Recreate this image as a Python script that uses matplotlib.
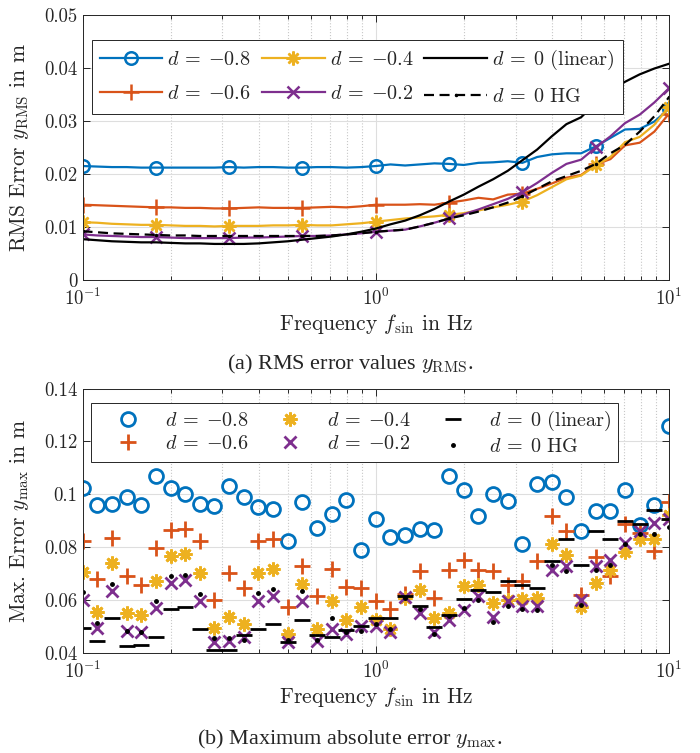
import numpy as np
import matplotlib
matplotlib.use("Agg")
import matplotlib.pyplot as plt
from matplotlib.ticker import FuncFormatter, LogLocator, LogFormatterMathtext

plt.rcParams['font.family'] = 'serif'
plt.rcParams['font.serif'] = ['cmr10', 'DejaVu Serif']
plt.rcParams['mathtext.fontset'] = 'cm'
plt.rcParams['axes.unicode_minus'] = False
plt.rcParams['axes.formatter.use_mathtext'] = True

# Frequenzraster (41 Punkte, logarithmisch)
f = np.logspace(-1, 1, 41)

# (a) RMS-Fehler
rms_08 = [0.0215, 0.0214, 0.0213, 0.0213, 0.0212, 0.0212, 0.0212, 0.0212, 0.0212, 0.0212,
          0.0213, 0.0212, 0.0213, 0.0213, 0.0212, 0.0212, 0.0213, 0.0213, 0.0212, 0.0213,
          0.0215, 0.0218, 0.0216, 0.0218, 0.0220, 0.0219, 0.0217, 0.0221, 0.0222, 0.0224,
          0.0221, 0.0232, 0.0237, 0.0239, 0.0239, 0.0252, 0.0268, 0.0284, 0.0285, 0.0299,
          0.0323]
rms_06 = [0.0142, 0.0141, 0.0140, 0.0139, 0.0138, 0.0137, 0.0137, 0.0136, 0.0136, 0.0135,
          0.0135, 0.0136, 0.0137, 0.0136, 0.0136, 0.0136, 0.0137, 0.0138, 0.0137, 0.0139,
          0.0142, 0.0142, 0.0142, 0.0143, 0.0142, 0.0146, 0.0150, 0.0155, 0.0152, 0.0161,
          0.0163, 0.0172, 0.0182, 0.0193, 0.0198, 0.0218, 0.0228, 0.0254, 0.0259, 0.0280,
          0.0314]
rms_04 = [0.0109, 0.0108, 0.0106, 0.0105, 0.0104, 0.0104, 0.0103, 0.0102, 0.0102, 0.0101,
          0.0102, 0.0102, 0.0102, 0.0103, 0.0103, 0.0104, 0.0103, 0.0103, 0.0105, 0.0107,
          0.0110, 0.0113, 0.0116, 0.0118, 0.0120, 0.0123, 0.0126, 0.0131, 0.0137, 0.0142,
          0.0148, 0.0160, 0.0175, 0.0190, 0.0197, 0.0216, 0.0232, 0.0260, 0.0270, 0.0293,
          0.0327]
rms_02 = [0.0086, 0.0084, 0.0083, 0.0082, 0.0081, 0.0081, 0.0080, 0.0079, 0.0079, 0.0079,
          0.0079, 0.0080, 0.0080, 0.0081, 0.0082, 0.0083, 0.0083, 0.0084, 0.0086, 0.0088,
          0.0091, 0.0093, 0.0095, 0.0101, 0.0108, 0.0116, 0.0124, 0.0133, 0.0143, 0.0153,
          0.0166, 0.0183, 0.0202, 0.0219, 0.0227, 0.0250, 0.0271, 0.0296, 0.0312, 0.0335,
          0.0362]
rms_lin = [0.0077, 0.0075, 0.0073, 0.0072, 0.0071, 0.0071, 0.0070, 0.0069, 0.0069, 0.0068,
           0.0068, 0.0068, 0.0069, 0.0071, 0.0073, 0.0076, 0.0079, 0.0082, 0.0086, 0.0091,
           0.0097, 0.0105, 0.0112, 0.0122, 0.0134, 0.0148, 0.0161, 0.0176, 0.0190, 0.0206,
           0.0226, 0.0246, 0.0271, 0.0294, 0.0307, 0.0334, 0.0357, 0.0374, 0.0388, 0.0399,
           0.0408]
rms_hg = [0.0092, 0.0090, 0.0088, 0.0087, 0.0086, 0.0085, 0.0084, 0.0084, 0.0083, 0.0083,
          0.0083, 0.0083, 0.0083, 0.0083, 0.0083, 0.0083, 0.0083, 0.0084, 0.0086, 0.0088,
          0.0091, 0.0093, 0.0095, 0.0101, 0.0108, 0.0116, 0.0122, 0.0129, 0.0137, 0.0146,
          0.0158, 0.0172, 0.0186, 0.0196, 0.0206, 0.0219, 0.0239, 0.0255, 0.0280, 0.0309,
          0.0345]

# (b) Maximaler Fehler
max_08 = [0.1025, 0.0961, 0.0962, 0.0989, 0.0961, 0.1070, 0.1024, 0.1001, 0.0963, 0.0956,
          0.1030, 0.0990, 0.0950, 0.0943, 0.0822, 0.0971, 0.0873, 0.0924, 0.0980, 0.0789,
          0.0905, 0.0838, 0.0844, 0.0870, 0.0863, 0.1070, 0.1015, 0.0918, 0.1001, 0.0973,
          0.0811, 0.1038, 0.1047, 0.0991, 0.0860, 0.0938, 0.0938, 0.1016, 0.0885, 0.0961,
          0.1258]
max_06 = [0.0823, 0.0680, 0.0834, 0.0692, 0.0658, 0.0797, 0.0863, 0.0870, 0.0822, 0.0601,
          0.0701, 0.0644, 0.0822, 0.0832, 0.0572, 0.0730, 0.0613, 0.0718, 0.0648, 0.0646,
          0.0597, 0.0566, 0.0623, 0.0709, 0.0606, 0.0714, 0.0752, 0.0714, 0.0709, 0.0657,
          0.0671, 0.0746, 0.0916, 0.0860, 0.0620, 0.0762, 0.0690, 0.0889, 0.0855, 0.0784,
          0.0971]
max_04 = [0.0705, 0.0556, 0.0739, 0.0549, 0.0543, 0.0673, 0.0765, 0.0775, 0.0701, 0.0494,
          0.0537, 0.0509, 0.0703, 0.0718, 0.0471, 0.0661, 0.0490, 0.0597, 0.0522, 0.0572,
          0.0522, 0.0490, 0.0606, 0.0638, 0.0530, 0.0549, 0.0654, 0.0657, 0.0587, 0.0600,
          0.0604, 0.0606, 0.0813, 0.0771, 0.0572, 0.0663, 0.0715, 0.0781, 0.0829, 0.0832,
          0.0920]
max_02 = [0.0601, 0.0494, 0.0635, 0.0484, 0.0480, 0.0568, 0.0665, 0.0676, 0.0595, 0.0439,
          0.0445, 0.0458, 0.0597, 0.0613, 0.0439, 0.0597, 0.0445, 0.0490, 0.0471, 0.0500,
          0.0500, 0.0480, 0.0610, 0.0549, 0.0477, 0.0525, 0.0560, 0.0613, 0.0534, 0.0594,
          0.0576, 0.0576, 0.0715, 0.0727, 0.0601, 0.0730, 0.0753, 0.0816, 0.0860, 0.0891,
          0.0905]
max_lin = [0.0494, 0.0443, 0.0532, 0.0427, 0.0429, 0.0458, 0.0566, 0.0572, 0.0490, 0.0410,
           0.0410, 0.0468, 0.0490, 0.0509, 0.0439, 0.0522, 0.0468, 0.0458, 0.0486, 0.0503,
           0.0530, 0.0532, 0.0613, 0.0576, 0.0499, 0.0544, 0.0604, 0.0639, 0.0629, 0.0673,
           0.0657, 0.0646, 0.0747, 0.0829, 0.0734, 0.0861, 0.0829, 0.0899, 0.0887, 0.0939,
           0.0907]
max_hg = [0.0629, 0.0513, 0.0661, 0.0484, 0.0480, 0.0597, 0.0690, 0.0695, 0.0623, 0.0455,
          0.0454, 0.0448, 0.0627, 0.0642, 0.0448, 0.0633, 0.0450, 0.0532, 0.0477, 0.0484,
          0.0509, 0.0490, 0.0608, 0.0566, 0.0471, 0.0540, 0.0568, 0.0600, 0.0515, 0.0576,
          0.0566, 0.0560, 0.0734, 0.0709, 0.0581, 0.0715, 0.0734, 0.0810, 0.0848, 0.0848,
          0.0878]

labels = [r'$d\:=\:{-0.8}$', r'$d\:=\:{-0.6}$', r'$d\:=\:{-0.4}$', r'$d\:=\:{-0.2}$',
          r'$d\:=\:0$ (linear)', r'$d\:=\:0$ HG']

c_blue = '#0072BD'
c_red = '#D95319'
c_yel = '#EDB120'
c_pur = '#7E2F8E'
c_txt = '#262626'
star = (8, 2, 0)
fs_tick = 13.5
fs_lab = 15.5
fs_leg = 14.5

fig = plt.figure(figsize=(7.0, 7.53), dpi=100)
ax1 = fig.add_axes([0.1179, 0.6282, 0.8379, 0.3519])
ax2 = fig.add_axes([0.1179, 0.1332, 0.8379, 0.3506])

# --- (a) ---
lw = 1.6
ax1.plot(f, rms_08, color=c_blue, lw=lw, marker='o', ms=9, mfc='none', mew=1.8, markevery=5, label=labels[0])
ax1.plot(f, rms_06, color=c_red, lw=lw, marker='+', ms=11, mew=1.8, markevery=5, label=labels[1])
ax1.plot(f, rms_04, color=c_yel, lw=lw, marker=star, ms=10, mew=1.8, markevery=5, label=labels[2])
ax1.plot(f, rms_02, color=c_pur, lw=lw, marker='x', ms=8, mew=1.8, markevery=5, label=labels[3])
ax1.plot(f, rms_lin, color='k', lw=lw, label=labels[4])
ax1.plot(f, rms_hg, color='k', lw=lw, ls=(0, (4.5, 2.5)), marker='.', ms=3, markevery=5, label=labels[5])
ax1.set_ylim(0, 0.05)
ax1.set_yticks([0, 0.01, 0.02, 0.03, 0.04, 0.05])

# --- (b) ---
ax2.plot(f, max_08, ls='none', color=c_blue, marker='o', ms=10, mfc='none', mew=2, label=labels[0])
ax2.plot(f, max_06, ls='none', color=c_red, marker='+', ms=11, mew=2, label=labels[1])
ax2.plot(f, max_04, ls='none', color=c_yel, marker=star, ms=10, mew=2, label=labels[2])
ax2.plot(f, max_02, ls='none', color=c_pur, marker='x', ms=8, mew=2, label=labels[3])
ax2.plot(f, max_lin, ls='none', color='k', marker='_', ms=11, mew=2, label=labels[4])
ax2.plot(f, max_hg, ls='none', color='k', marker='.', ms=5, label=labels[5])
ax2.set_ylim(0.04, 0.14)
ax2.set_yticks([0.04, 0.06, 0.08, 0.1, 0.12, 0.14])

for ax in (ax1, ax2):
    ax.set_xscale('log')
    ax.set_xlim(0.1, 10)
    ax.xaxis.set_major_locator(LogLocator(base=10, numticks=5))
    ax.xaxis.set_major_formatter(LogFormatterMathtext())
    ax.xaxis.set_minor_locator(LogLocator(base=10, subs=np.arange(2, 10), numticks=20))
    ax.yaxis.set_major_formatter(FuncFormatter(lambda v, p: '%g' % v))
    ax.grid(True, which='major', color='#dedede', lw=0.8, ls='-')
    ax.grid(True, which='minor', axis='x', color='#c8c8c8', lw=0.8, ls=':')
    ax.set_axisbelow(True)
    ax.tick_params(which='both', direction='in', top=True, right=True,
                   colors=c_txt, labelsize=fs_tick, width=0.7)
    ax.tick_params(which='major', length=5)
    ax.tick_params(which='minor', length=3)
    ax.tick_params(axis='x', pad=6)
    for s in ax.spines.values():
        s.set_color(c_txt)
        s.set_linewidth(0.7)
    ax.set_xlabel(r'Frequency $f_{\mathrm{sin}}$ in Hz', fontsize=fs_lab, color=c_txt, va='baseline')

ax1.set_ylabel(r'RMS Error $y_{\mathrm{RMS}}$ in m', fontsize=fs_lab, color=c_txt, va='center')
ax2.set_ylabel(r'Max. Error $y_{\max}$ in m', fontsize=fs_lab, color=c_txt, va='center')
ax1.yaxis.set_label_coords(-0.107, 0.5)
ax2.yaxis.set_label_coords(-0.107, 0.5)
ax1.xaxis.set_label_coords(0.5, -50 / 265)
ax2.xaxis.set_label_coords(0.5, -50 / 264)

leg_kw = dict(ncol=3, fontsize=fs_leg, frameon=True, fancybox=False, framealpha=1,
              edgecolor=c_txt, handlelength=3.1, handletextpad=0.25,
              columnspacing=0.55, borderaxespad=0, loc='upper left')
l1 = ax1.legend(bbox_to_anchor=(0.016, 0.906), labelspacing=0.8, borderpad=0.4, **leg_kw)
l2 = ax2.legend(bbox_to_anchor=(0.0145, 0.946), labelspacing=0.25, borderpad=0.3, **leg_kw)
for l in (l1, l2):
    l.get_frame().set_linewidth(0.7)
    for t in l.get_texts():
        t.set_color(c_txt)

cap_font = ['Liberation Serif', 'DejaVu Serif']
fig.text(0.5, 1 - 369 / 753, r'(a) RMS error values $y_{\mathrm{RMS}}$.', ha='center', va='baseline',
         fontsize=16, color=c_txt, family=cap_font)
fig.text(0.5, 1 - 744 / 753, r'(b) Maximum absolute error $y_{\max}$.', ha='center', va='baseline',
         fontsize=16, color=c_txt, family=cap_font)

fig.savefig('out.png', dpi=100)
